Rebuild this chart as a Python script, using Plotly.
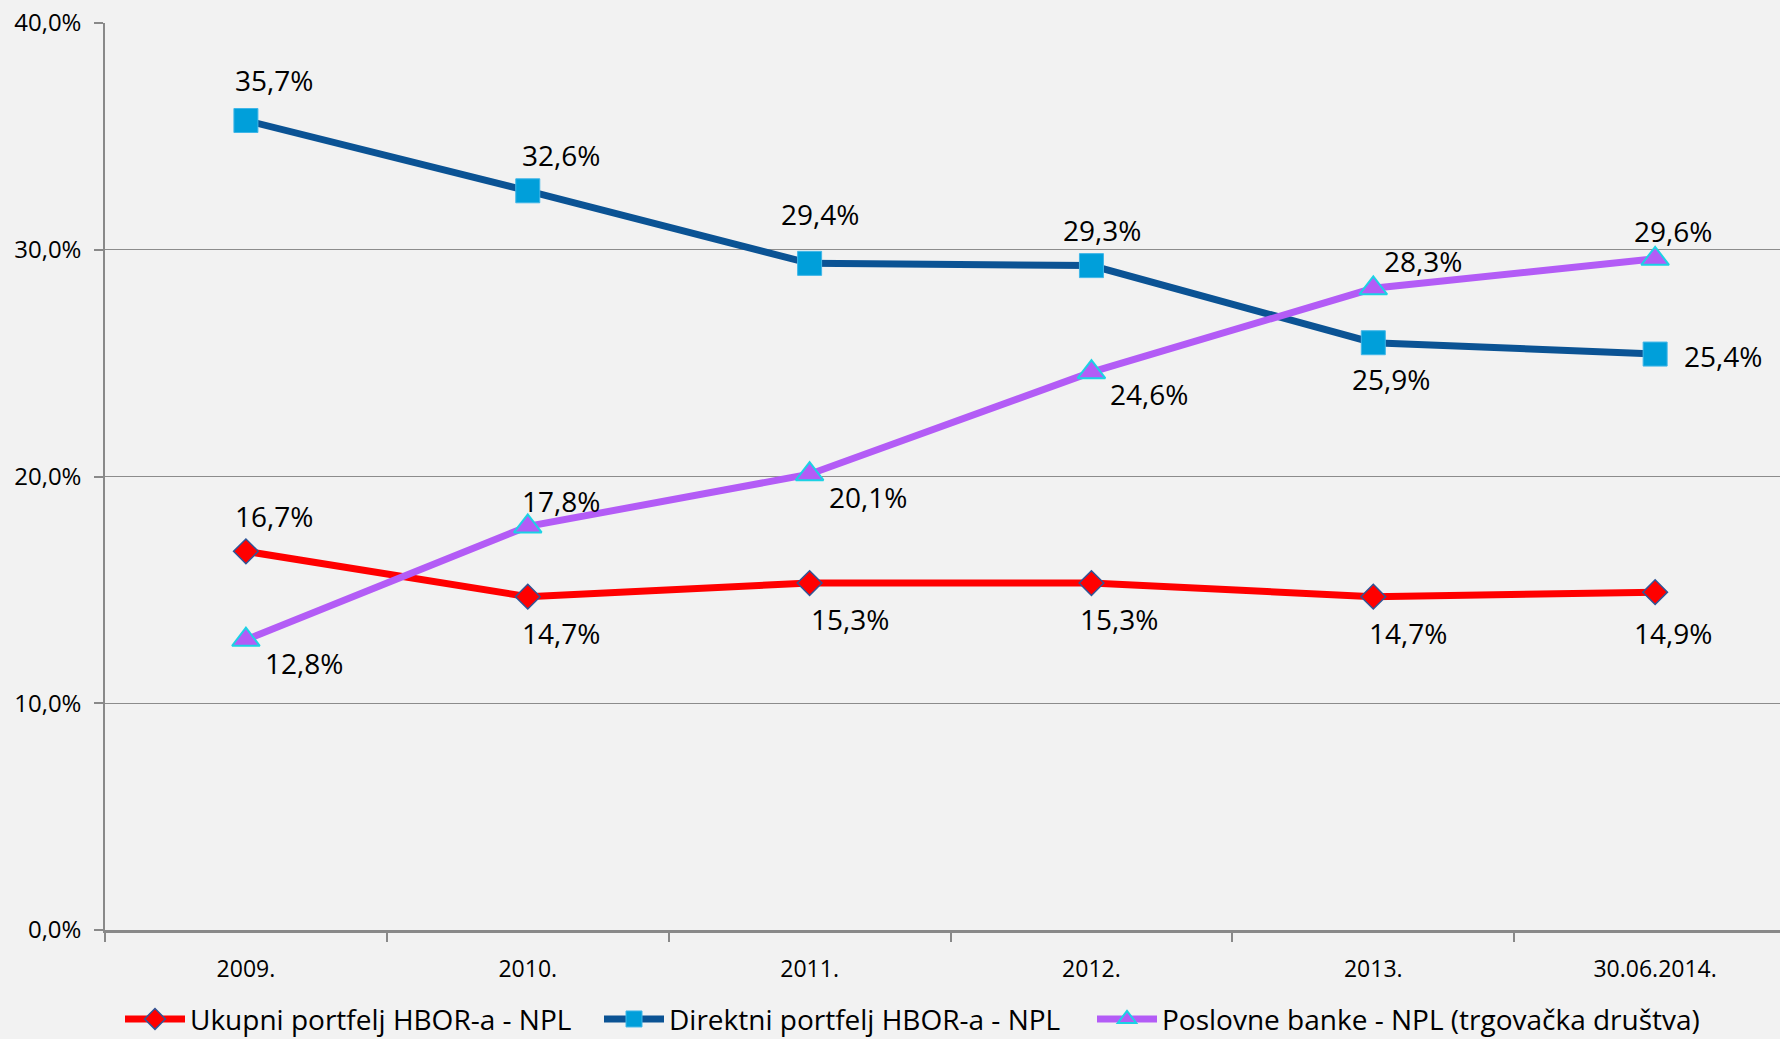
import plotly.graph_objects as go

categories = ["2009.", "2010.", "2011.", "2012.", "2013.", "30.06.2014."]
ukupni = [16.7, 14.7, 15.3, 15.3, 14.7, 14.9]
direktni = [35.7, 32.6, 29.4, 29.3, 25.9, 25.4]
poslovne = [12.8, 17.8, 20.1, 24.6, 28.3, 29.6]
names = ["Ukupni portfelj HBOR-a - NPL", "Direktni portfelj HBOR-a - NPL",
         "Poslovne banke - NPL (trgovačka društva)"]
y_ticks = [0, 10, 20, 30, 40]

# label offsets (pixels) per series
off_ukupni = [(28, 35), (33, -36), (40, -36), (28, -36), (35, -36), (18, -41)]
off_direktni = [(28, 41), (33, 36), (10, 49), (11, 36), (18, -36), (68, -2)]
off_poslovne = [(58, -23), (33, 25), (58, -23), (58, -22), (50, 27), (18, 28)]

FONT = "Open Sans, Liberation Sans, sans-serif"

def fmt(v):
    return f"{v:.1f}".replace(".", ",") + "%"

fig = go.Figure()
fig.add_trace(go.Scatter(
    x=categories, y=ukupni, name=names[0], mode="lines+markers", legend="legend",
    line=dict(color="#FF0000", width=7),
    marker=dict(symbol="diamond", size=19, color="#FF0000",
                line=dict(color="#2F5597", width=1.5))))
fig.add_trace(go.Scatter(
    x=categories, y=direktni, name=names[1], mode="lines+markers", legend="legend2",
    line=dict(color="#0B5394", width=7),
    marker=dict(symbol="square", size=24, color="#009FDA",
                line=dict(color="#3FB6E8", width=1))))
fig.add_trace(go.Scatter(
    x=categories, y=poslovne, name=names[2], mode="lines+markers", legend="legend3",
    line=dict(color="#B35CF6", width=7),
    marker=dict(symbol="triangle-up", size=24, color="#B35CF6",
                line=dict(color="#1CD2E4", width=2))))

for series, offs in ((ukupni, off_ukupni), (direktni, off_direktni), (poslovne, off_poslovne)):
    for i, (v, (dx, dy)) in enumerate(zip(series, offs)):
        fig.add_annotation(x=i, y=v, text=fmt(v), showarrow=False,
                           xshift=dx, yshift=dy,
                           font=dict(family=FONT, size=28, color="#000000"))

def legend_at(px):
    return dict(orientation="h", xref="container", yref="container",
                x=px / 1780, xanchor="left", y=0.019, yanchor="middle",
                font=dict(family=FONT, size=28, color="#000000"),
                itemwidth=60, bgcolor="rgba(0,0,0,0)")

fig.update_layout(
    width=1780, height=1039,
    margin=dict(l=105, r=0, t=23, b=109),
    paper_bgcolor="#F2F2F2", plot_bgcolor="#F2F2F2",
    showlegend=True,
    legend=legend_at(120), legend2=legend_at(599), legend3=legend_at(1092),
    font=dict(family=FONT, color="#000000"),
)
fig.update_xaxes(
    type="category", categoryorder="array", categoryarray=categories,
    range=[-0.5, 5.443], tickson="boundaries", ticks="outside", ticklen=9,
    tickcolor="#898989", tickwidth=1.5,
    showline=True, linecolor="#898989", linewidth=3,
    showgrid=False, tickfont=dict(family=FONT, size=23, color="#000000"),
    ticklabelstandoff=16,
)
fig.update_yaxes(
    range=[0, 40], tickvals=y_ticks, ticktext=[fmt(v) for v in y_ticks],
    ticks="outside", ticklen=9, tickcolor="#898989", tickwidth=1.5,
    showline=True, linecolor="#898989", linewidth=1.5,
    showgrid=True, gridcolor="#8C8C8C", gridwidth=1.3, zeroline=False,
    tickfont=dict(family=FONT, size=24, color="#000000"),
    ticklabelstandoff=8,
)

fig.write_html("out.html", config={"displayModeBar": False},
               post_script="document.body.style.margin='0';document.body.style.overflow='hidden';document.body.style.background='#F2F2F2';")
